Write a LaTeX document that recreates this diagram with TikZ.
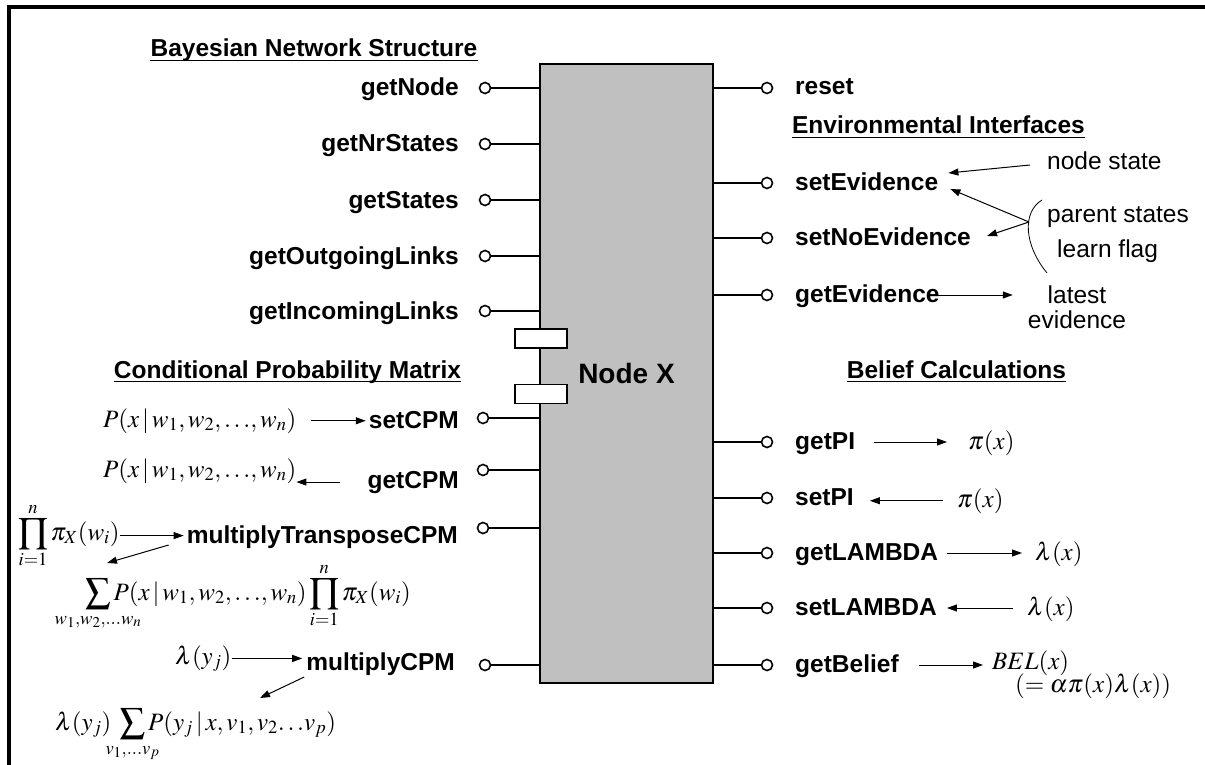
\documentclass[tikz,border=0pt]{standalone}
\usepackage{mathptmx}
\usepackage{mathtools}
\usepackage[no-math]{fontspec}
\setmainfont{Liberation Sans}
\usetikzlibrary{arrows.meta}
\definecolor{boxgray}{HTML}{C0C0C0}

\begin{document}
\begin{tikzpicture}[x=1pt,y=-1pt,
    font=\fontsize{24.5}{25}\selectfont,
    lbl/.style={font=\fontsize{24.5}{25}\selectfont\bfseries, inner sep=0pt},
    head/.style={lbl, anchor=base},
    note/.style={inner sep=0pt},
    mth/.style={inner sep=0pt, font=\fontsize{25}{30}\selectfont},
    pin/.style={circle, draw, fill=white, line width=1.6pt, minimum size=11pt, inner sep=0pt},
    wire/.style={line width=1.8pt},
    arr/.style={line width=1pt, -{Triangle[length=10pt,width=7pt]}},
    uline/.style={line width=1.6pt},
    port/.style={draw, fill=white, line width=1.8pt, minimum width=52pt, minimum height=19pt, inner sep=0pt}]
  \useasboundingbox (0,0) rectangle (1205,765);
  \draw[line width=4.5pt] (9,765) -- (9,7) -- (1205,7);

  % the component
  \node[draw, fill=boxgray, line width=2.5pt, minimum width=173pt, minimum height=619pt, inner sep=0pt,
        font=\fontsize{28}{30}\selectfont\bfseries] (nodex) at (626.5,373.5) {Node X};
  \node[port] (p1) at (541,338.5) {};
  \node[port] (p2) at (541,394) {};

  % headings
  \node[head] (h-bns) at (314,57) {Bayesian Network Structure};
  \node[head] (h-cpm) at (287.5,378) {Conditional Probability Matrix};
  \node[head] (h-env) at (938.5,134) {Environmental Interfaces};
  \node[head] (h-bel) at (956.5,378) {Belief Calculations};
  \foreach \h in {h-bns,h-cpm,h-env,h-bel}
    \draw[uline] ([yshift=-3.5pt]\h.base west) -- ([yshift=-3.5pt]\h.base east);

  % left interfaces
  \foreach \n/\y in {getNode/88,getNrStates/144,getStates/200,getOutgoingLinks/256,getIncomingLinks/311}{
    \node[pin] (c-\n) at (485,\y) {};
    \node[lbl, anchor=base east] (t-\n) at (459,\y+8) {\n};
    \draw[wire] (c-\n.east) -- (c-\n.east -| nodex.west);
  }
  \foreach \n/\x/\y/\b/\e in {setCPM/483/418/428/459,getCPM/483/470/488/459,
      multiplyTransposeCPM/483/528/543/458,multiplyCPM/485/665/670/455}{
    \node[pin] (c-\n) at (\x,\y) {};
    \node[lbl, anchor=base east] (t-\n) at (\e,\b) {\n};
    \draw[wire] (c-\n.east) -- (c-\n.east -| nodex.west);
  }

  % right interfaces
  \foreach \n/\y in {reset/88,setEvidence/183,setNoEvidence/238,getEvidence/295,
      getPI/442,setPI/498,getLAMBDA/553,setLAMBDA/608,getBelief/665}{
    \node[pin] (c-\n) at (767,\y) {};
    \node[lbl, anchor=base west] (t-\n) at (795,\y+7) {\n};
    \draw[wire] (c-\n.west) -- (c-\n.west -| nodex.east);
  }

  % CPM formulas
  \node[mth, anchor=base west] (f1) at (103,427) {$P(x\,|\,w_1,w_2,{\ldots},w_n)$};
  \node[mth, anchor=base west] (f2) at (103,477) {$P(x\,|\,w_1,w_2,{\ldots},w_n)$};
  \node[mth, anchor=base west] (f3) at (18,540) {$\displaystyle\prod_{i=1}^{n}\pi_X(w_i)$};
  \node[mth, anchor=base west] (f4) at (85,600)
    {$\displaystyle\sum_{\mathclap{w_1,w_2,{\ldots}w_n}}P(x\,|\,w_1,w_2,{\ldots},w_n)\prod_{i=1}^{n}\pi_X(w_i)$};
  \node[mth, anchor=base west] (f5) at (175,664) {$\lambda(y_j)$};
  \node[mth, anchor=base west] (f6) at (55,730)
    {$\displaystyle\lambda(y_j)\;\sum_{\mathclap{v_1,{\ldots}v_p}}P(y_j\,|\,x,v_1,v_2{\ldots}v_p)$};

  \draw[arr, shorten <=15pt, shorten >=3pt] (f1.east) -- (f1.east -| t-setCPM.west);
  \draw[arr, shorten <=27pt] (t-getCPM.west) -- (t-getCPM.west -| f2.east);
  \draw[arr, shorten >=3pt] (f3.east) -- (f3.east -| t-multiplyTransposeCPM.west);
  \draw[arr] ([xshift=-18pt,yshift=-2pt]t-multiplyTransposeCPM.base west) -- ([xshift=22pt,yshift=37pt]f4.base west);
  \draw[arr, shorten >=4pt] (f5.east) -- (f5.east -| t-multiplyCPM.west);
  \draw[arr] ([xshift=-2pt,yshift=-7pt]t-multiplyCPM.base west) -- ([xshift=205pt,yshift=32pt]f6.base west);

  % evidence notes
  \node[note, anchor=base west] (ns) at (1047,170) {node state};
  \node[note, anchor=base west] (ps) at (1047,222) {parent states};
  \node[note, anchor=base west] (lf) at (1057,257) {learn flag};
  \node[note, anchor=base] (lt) at (1077,303) {latest};
  \node[note, anchor=base] (ev) at (1077,328) {evidence};
  \draw[line width=0.8pt] (1042,200) .. controls (1022,212) and (1024,245) .. (1047,273);
  \coordinate (br) at (1029,222);

  \draw[arr] ([xshift=-17pt,yshift=5pt]ns.base west) -- ([xshift=10pt,yshift=17pt]t-setEvidence.base east);
  \draw[arr] (br) -- ([xshift=12pt,yshift=1pt]t-setEvidence.base east);
  \draw[arr] (br) -- ([xshift=16pt,yshift=9pt]t-setNoEvidence.base east);
  \draw[arr, shorten <=-5pt, shorten >=15pt] (c-getEvidence -| t-getEvidence.east) -- (c-getEvidence -| ev.west);

  % belief values
  \node[mth, anchor=base west] (pi1) at (968,449) {$\pi(x)$};
  \node[mth, anchor=base west] (pi2) at (957,507) {$\pi(x)$};
  \node[mth, anchor=base west] (lam1) at (1035,560) {$\lambda(x)$};
  \node[mth, anchor=base west] (lam2) at (1027,615) {$\lambda(x)$};
  \node[mth, anchor=base west] (bel) at (992,669) {$BEL(x)$};
  \node[mth, anchor=base west] (beleq) at (1015,692) {$(=\alpha\pi(x)\lambda(x))$};

  \draw[arr, shorten <=19pt, shorten >=21pt] (c-getPI -| t-getPI.east) -- (c-getPI -| pi1.west);
  \draw[arr, shorten <=14pt, shorten >=16pt] (pi2.west) -- (pi2.west -| t-setPI.east);
  \draw[arr, shorten <=9pt, shorten >=13pt] (c-getLAMBDA -| t-getLAMBDA.east) -- (c-getLAMBDA -| lam1.west);
  \draw[arr, shorten <=14pt, shorten >=10pt] (c-setLAMBDA -| lam2.west) -- (c-setLAMBDA -| t-setLAMBDA.east);
  \draw[arr, shorten <=20pt, shorten >=9pt] (c-getBelief -| t-getBelief.east) -- (c-getBelief -| bel.west);
\end{tikzpicture}
\end{document}
